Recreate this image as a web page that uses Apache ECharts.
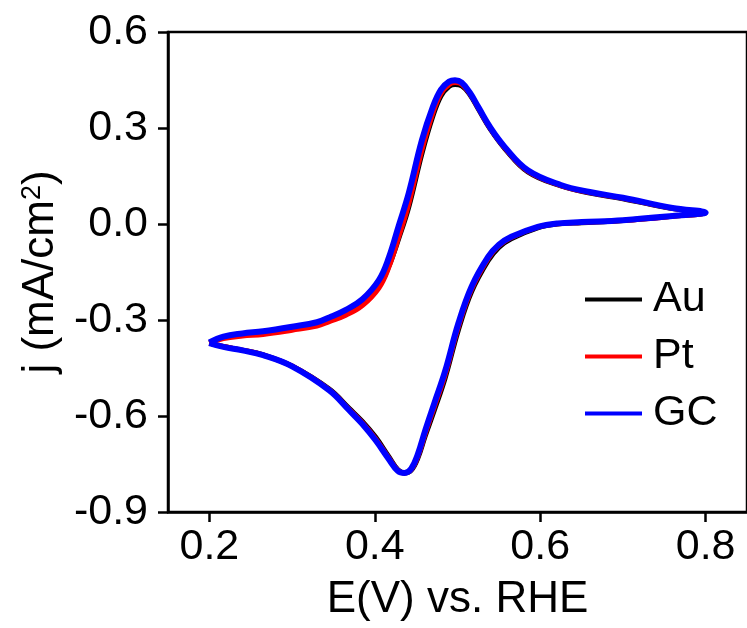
<!DOCTYPE html>
<html>
<head>
<meta charset="utf-8">
<script src="https://cdn.jsdelivr.net/npm/echarts@6/dist/echarts.min.js"></script>
<style>
  html, body { margin: 0; padding: 0; background: #fff; }
  #chart { width: 747px; height: 628px; }
</style>
</head>
<body>
<div id="chart"></div>
<script>
// potential sweep: anodic 0.2 -> 0.8, then cathodic back to 0.2 (V vs RHE)
const potential = [
  0.200, 0.217, 0.240, 0.265, 0.300, 0.330, 0.345, 0.365, 0.385, 0.405,
  0.417, 0.429, 0.441, 0.457, 0.470, 0.480, 0.490, 0.497, 0.505, 0.515,
  0.525, 0.540, 0.557, 0.585, 0.625, 0.660, 0.700, 0.760, 0.800,
  0.760, 0.700, 0.650, 0.621, 0.597, 0.565, 0.550, 0.537, 0.517, 0.501,
  0.485, 0.472, 0.461, 0.452, 0.444, 0.436, 0.428, 0.417, 0.401, 0.385,
  0.369, 0.345, 0.300, 0.265, 0.240, 0.217, 0.200
]
// current density, mA/cm2
const jAu = [
  -0.371, -0.355, -0.346, -0.340, -0.327, -0.313, -0.299, -0.278, -0.248, -0.195,
  -0.132, -0.045, 0.052, 0.220, 0.335, 0.400, 0.430, 0.436, 0.432, 0.404,
  0.360, 0.295, 0.236, 0.163, 0.119, 0.097, 0.079, 0.048, 0.035,
  0.024, 0.011, 0.004, 0.000, -0.012, -0.046, -0.073, -0.115, -0.212, -0.332,
  -0.482, -0.582, -0.662, -0.732, -0.770, -0.778, -0.768, -0.727, -0.666, -0.617,
  -0.576, -0.516, -0.444, -0.409, -0.394, -0.383, -0.372
]
const jPt = [
  -0.372, -0.358, -0.350, -0.345, -0.332, -0.319, -0.305, -0.285, -0.255, -0.200,
  -0.135, -0.040, 0.062, 0.232, 0.345, 0.408, 0.436, 0.442, 0.437, 0.407,
  0.363, 0.297, 0.238, 0.165, 0.120, 0.098, 0.080, 0.049, 0.035,
  0.024, 0.011, 0.005, 0.001, -0.010, -0.042, -0.068, -0.108, -0.204, -0.322,
  -0.472, -0.572, -0.655, -0.727, -0.768, -0.778, -0.770, -0.731, -0.671, -0.621,
  -0.579, -0.518, -0.444, -0.409, -0.394, -0.383, -0.372
]
const jGC = [
  -0.370, -0.352, -0.342, -0.335, -0.321, -0.307, -0.292, -0.268, -0.235, -0.175,
  -0.105, -0.005, 0.096, 0.262, 0.365, 0.420, 0.445, 0.449, 0.442, 0.410,
  0.366, 0.300, 0.241, 0.168, 0.122, 0.100, 0.082, 0.050, 0.036,
  0.025, 0.012, 0.006, 0.002, -0.009, -0.040, -0.065, -0.103, -0.196, -0.311,
  -0.460, -0.560, -0.645, -0.720, -0.765, -0.778, -0.772, -0.735, -0.676, -0.625,
  -0.582, -0.520, -0.445, -0.410, -0.395, -0.384, -0.372
]
const xTicks = [0.2, 0.4, 0.6, 0.8]
const yTicks = [-0.9, -0.6, -0.3, 0.0, 0.3, 0.6]

const FONT = '"Liberation Sans", Arial, sans-serif'
const pairs = (ys) => potential.map((x, i) => [x, ys[i]])

const myChart = echarts.init(document.getElementById('chart'), null, { renderer: 'canvas' })

const makeSeries = (name, data, color, width) => ({
  name: name,
  type: 'line',
  data: pairs(data),
  color: color,
  showSymbol: false,
  smooth: 0.4,
  lineStyle: { color: color, width: width },
  animation: false
})

const option = {
  backgroundColor: '#fff',
  animation: false,
  grid: {
    left: 168,
    top: 32,
    width: 584,
    height: 480,
    show: true,
    borderColor: '#000',
    borderWidth: 2.5
  },
  legend: {
    orient: 'vertical',
    left: 580,
    top: 273,
    icon: 'rect',
    itemWidth: 57,
    itemHeight: 4,
    itemGap: 14,
    textStyle: {
      fontFamily: FONT,
      fontSize: 43,
      lineHeight: 42,
      color: '#000',
      padding: [0, 0, 0, 6]
    },
    data: ['Au', 'Pt', 'GC']
  },
  xAxis: {
    type: 'value',
    min: 0.15,
    max: 0.85,
    name: 'E(V) vs. RHE',
    nameLocation: 'middle',
    nameGap: 66,
    nameTextStyle: { fontFamily: FONT, fontSize: 44, color: '#000' },
    axisLine: { onZero: false, lineStyle: { color: '#000', width: 2.5 } },
    axisTick: { show: true, inside: false, length: 10, lineStyle: { width: 2.5 }, customValues: xTicks },
    axisLabel: {
      fontFamily: FONT, fontSize: 43, color: '#000', margin: 14,
      customValues: xTicks,
      formatter: (v) => v.toFixed(1)
    },
    splitLine: { show: false }
  },
  yAxis: {
    type: 'value',
    min: -0.9,
    max: 0.6,
    name: 'j (mA/cm{sup|2})',
    nameLocation: 'middle',
    nameGap: 105,
    nameTextStyle: {
      fontFamily: FONT, fontSize: 44, lineHeight: 44, color: '#000',
      rich: {
        sup: { fontFamily: FONT, fontSize: 27, lineHeight: 30, verticalAlign: 'top', color: '#000' }
      }
    },
    axisLine: { onZero: false, lineStyle: { color: '#000', width: 2.5 } },
    axisTick: { show: true, inside: false, length: 10, lineStyle: { width: 2.5 }, customValues: yTicks },
    axisLabel: {
      fontFamily: FONT, fontSize: 43, color: '#000', margin: 20,
      customValues: yTicks,
      formatter: (v) => v.toFixed(1)
    },
    splitLine: { show: false }
  },
  series: [
    makeSeries('Au', jAu, '#000000', 5),
    makeSeries('Pt', jPt, '#ff0000', 5),
    makeSeries('GC', jGC, '#0000ff', 6)
  ]
}

myChart.setOption(option)
window.addEventListener('resize', myChart.resize)
</script>
</body>
</html>
